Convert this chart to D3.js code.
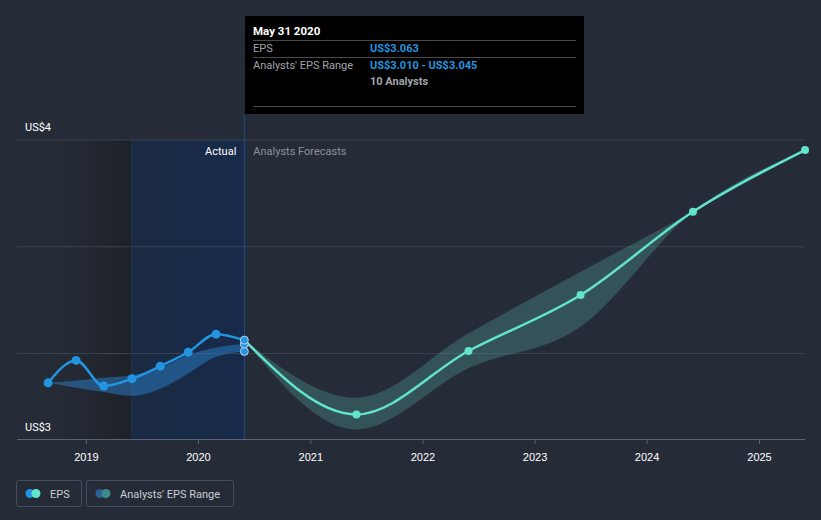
<!DOCTYPE html>
<html><head><meta charset="utf-8">
<script src="https://cdn.jsdelivr.net/npm/d3@7"></script>
<style>
html,body{margin:0;padding:0;background:#262c37;}
svg{display:block;font-family:Roboto,"Noto Sans",sans-serif;}
</style></head>
<body><svg id="c" width="821" height="520"></svg>
<script>
// ---- data ----
const pastDates = ["2018-08-31","2018-11-30","2019-02-28","2019-05-31","2019-08-31","2019-11-30","2020-02-29","2020-05-31"];
const pastEPS   = [2.863, 2.968, 2.848, 2.882, 2.941, 3.006, 3.091, 3.063];
const pastLow   = [2.863, 2.840, 2.820, 2.802, 2.835, 2.907, 2.985, 3.010];
const pastHigh  = [2.863, 2.874, 2.887, 2.899, 2.933, 2.993, 3.029, 3.045];
const fcDates   = ["2020-05-31","2021-05-31","2022-05-31","2023-05-31","2024-05-31","2025-05-31"];
const fcEPS     = [3.063, 2.715, 3.012, 3.274, 3.664, 3.953];
const fcLow     = [3.063, 2.645, 2.931, 3.126, 3.664, 3.953];
const fcHigh    = [3.063, 2.793, 3.095, 3.383, 3.664, 3.953];
const yearTicks = ["2019","2020","2021","2022","2023","2024","2025"];
const yGrid     = [3.0, 3.5, 4.0];
const yDomain   = [2.6, 4.0];
const tipDate = "May 31 2020", tipEPS = "US$3.063", tipRange = "US$3.010 - US$3.045", tipAnalysts = "10 Analysts";

const parse = d3.timeParse("%Y-%m-%d");
const svg = d3.select("#c");
const x = d3.scaleTime().domain([parse("2018-01-01"), parse("2025-01-01")]).range([86 - 112.2, 759]);
const y = d3.scaleLinear().domain(yDomain).range([439, 140]);
const L = 17, R = 805, T = 140, B = 439;
const curve = d3.curveMonotoneX;
const nowX = x(parse(pastDates[pastDates.length-1]));
const startShade = x(parse(pastDates[3]));

const defs = svg.append("defs");
const g1 = defs.append("linearGradient").attr("id","gDark").attr("x1",0).attr("x2",1);
g1.append("stop").attr("offset",0).attr("stop-color","#262c37").attr("stop-opacity",0);
g1.append("stop").attr("offset",1).attr("stop-color","#1c2027").attr("stop-opacity",1);
const g2 = defs.append("linearGradient").attr("id","gBlue").attr("x1",0).attr("x2",1);
g2.append("stop").attr("offset",0).attr("stop-color","#1a2a42");
g2.append("stop").attr("offset",1).attr("stop-color","#172a4a");

// shaded regions
svg.append("rect").attr("x",L).attr("y",T).attr("width",startShade-L).attr("height",B-T).attr("fill","url(#gDark)");
svg.append("rect").attr("x",startShade).attr("y",T).attr("width",nowX-startShade).attr("height",B-T).attr("fill","url(#gBlue)");
svg.append("line").attr("x1",startShade).attr("x2",startShade).attr("y1",T).attr("y2",B).attr("stroke","#1f3557").attr("stroke-width",1);

// grid
svg.selectAll(".grid").data(yGrid).join("line")
  .attr("x1",L).attr("x2",R).attr("y1",d=>y(d)).attr("y2",d=>y(d))
  .attr("stroke","#3c4350").attr("stroke-width",1);

// now line
svg.append("line").attr("x1",nowX).attr("x2",nowX).attr("y1",114).attr("y2",B).attr("stroke","#1e4f8a").attr("stroke-width",1);

// x axis
const xAxis = d3.axisBottom(x).tickValues(yearTicks.map(t=>parse(t+"-01-01"))).tickFormat(d3.timeFormat("%Y")).tickSize(5).tickSizeOuter(0);
const ax = svg.append("g").attr("transform",`translate(0,${B})`).call(xAxis);
ax.select(".domain").remove();
ax.selectAll(".tick line").attr("stroke","#5b6270");
ax.selectAll(".tick text").attr("fill","#ffffff").attr("font-size",11).attr("dy","1.3em");
svg.append("line").attr("x1",L).attr("x2",R).attr("y1",B+0.5).attr("y2",B+0.5).attr("stroke","#5b6270");

// y labels
const fmt = v => "US$" + d3.format(".0f")(v);
svg.append("text").attr("x",25).attr("y",y(yDomain[1])-9).text(fmt(yDomain[1])).attr("fill","#fff").attr("font-size",11);
svg.append("text").attr("x",25).attr("y",B-8).text(fmt(yDomain[0])).attr("fill","#fff").attr("font-size",11);

// bands
const area = d3.area().x(d=>x(d.d)).y0(d=>y(d.lo)).y1(d=>y(d.hi)).curve(curve);
const past = pastDates.map((d,i)=>({d:parse(d),v:pastEPS[i],lo:pastLow[i],hi:pastHigh[i]}));
const fc = fcDates.map((d,i)=>({d:parse(d),v:fcEPS[i],lo:fcLow[i],hi:fcHigh[i]}));
svg.append("path").datum(past).attr("d",area).attr("fill","#2a78bd").attr("fill-opacity",0.55);
svg.append("path").datum(fc).attr("d",area).attr("fill","#5fc9bd").attr("fill-opacity",0.25);

// lines
const line = d3.line().x(d=>x(d.d)).y(d=>y(d.v)).curve(curve);
svg.append("path").datum(fc).attr("d",line).attr("fill","none").attr("stroke","#62e3cb").attr("stroke-width",2.5);
svg.append("path").datum(past).attr("d",line).attr("fill","none").attr("stroke","#2394df").attr("stroke-width",2.5);
svg.selectAll(".fp").data(fc.slice(1)).join("circle").attr("cx",d=>x(d.d)).attr("cy",d=>y(d.v)).attr("r",4).attr("fill","#62e3cb");
svg.selectAll(".pp").data(past.slice(0,-1)).join("circle").attr("cx",d=>x(d.d)).attr("cy",d=>y(d.v)).attr("r",4.5).attr("fill","#2394df");
const last = past[past.length-1];
[last.lo,last.hi,last.v].forEach(v=>{
  svg.append("circle").attr("cx",x(last.d)).attr("cy",y(v)).attr("r",4).attr("fill","#2394df").attr("stroke","#d8e6f5").attr("stroke-width",0.8);
});

// labels
svg.append("text").attr("x",nowX-8).attr("y",155).attr("text-anchor","end").text("Actual").attr("fill","#ffffff").attr("font-size",11);
svg.append("text").attr("x",nowX+9).attr("y",155).text("Analysts Forecasts").attr("fill","#8b919b").attr("font-size",11);

// tooltip
const tg = svg.append("g");
tg.append("rect").attr("x",245).attr("y",16).attr("width",339).attr("height",98).attr("fill","#000");
tg.append("text").attr("x",253).attr("y",35).text(tipDate).attr("fill","#fff").attr("font-size",11.5).attr("font-weight","bold");
[40.5,57.5,106.5].forEach(yy=>tg.append("line").attr("x1",253).attr("x2",576).attr("y1",yy).attr("y2",yy).attr("stroke","#4a4a4a"));
tg.append("text").attr("x",253).attr("y",52).text("EPS").attr("fill","#a0a4aa").attr("font-size",11);
tg.append("text").attr("x",370).attr("y",52).text(tipEPS).attr("fill","#2394df").attr("font-size",11).attr("font-weight","bold");
tg.append("text").attr("x",253).attr("y",69).text("Analysts' EPS Range").attr("fill","#a0a4aa").attr("font-size",11);
tg.append("text").attr("x",370).attr("y",69).text(tipRange).attr("fill","#2394df").attr("font-size",11).attr("font-weight","bold");
tg.append("text").attr("x",370).attr("y",85).text(tipAnalysts).attr("fill","#a0a4aa").attr("font-size",11).attr("font-weight","bold");

// legend
const leg = [{label:"EPS",c1:"#2394df",c2:"#62e3cb",x:16,w:65},{label:"Analysts' EPS Range",c1:"#2a6296",c2:"#3f8a8a",x:86,w:147}];
leg.forEach(l=>{
  const gg = svg.append("g");
  gg.append("rect").attr("x",l.x+0.5).attr("y",480.5).attr("width",l.w).attr("height",26).attr("rx",2).attr("fill","none").attr("stroke","#474e5b");
  gg.append("circle").attr("cx",l.x+14).attr("cy",493.5).attr("r",4.5).attr("fill",l.c1);
  gg.append("circle").attr("cx",l.x+20).attr("cy",493.5).attr("r",4.5).attr("fill",l.c2);
  gg.append("text").attr("x",l.x+34).attr("y",497.5).text(l.label).attr("fill","#c9ccd2").attr("font-size",11);
});
</script></body></html>
